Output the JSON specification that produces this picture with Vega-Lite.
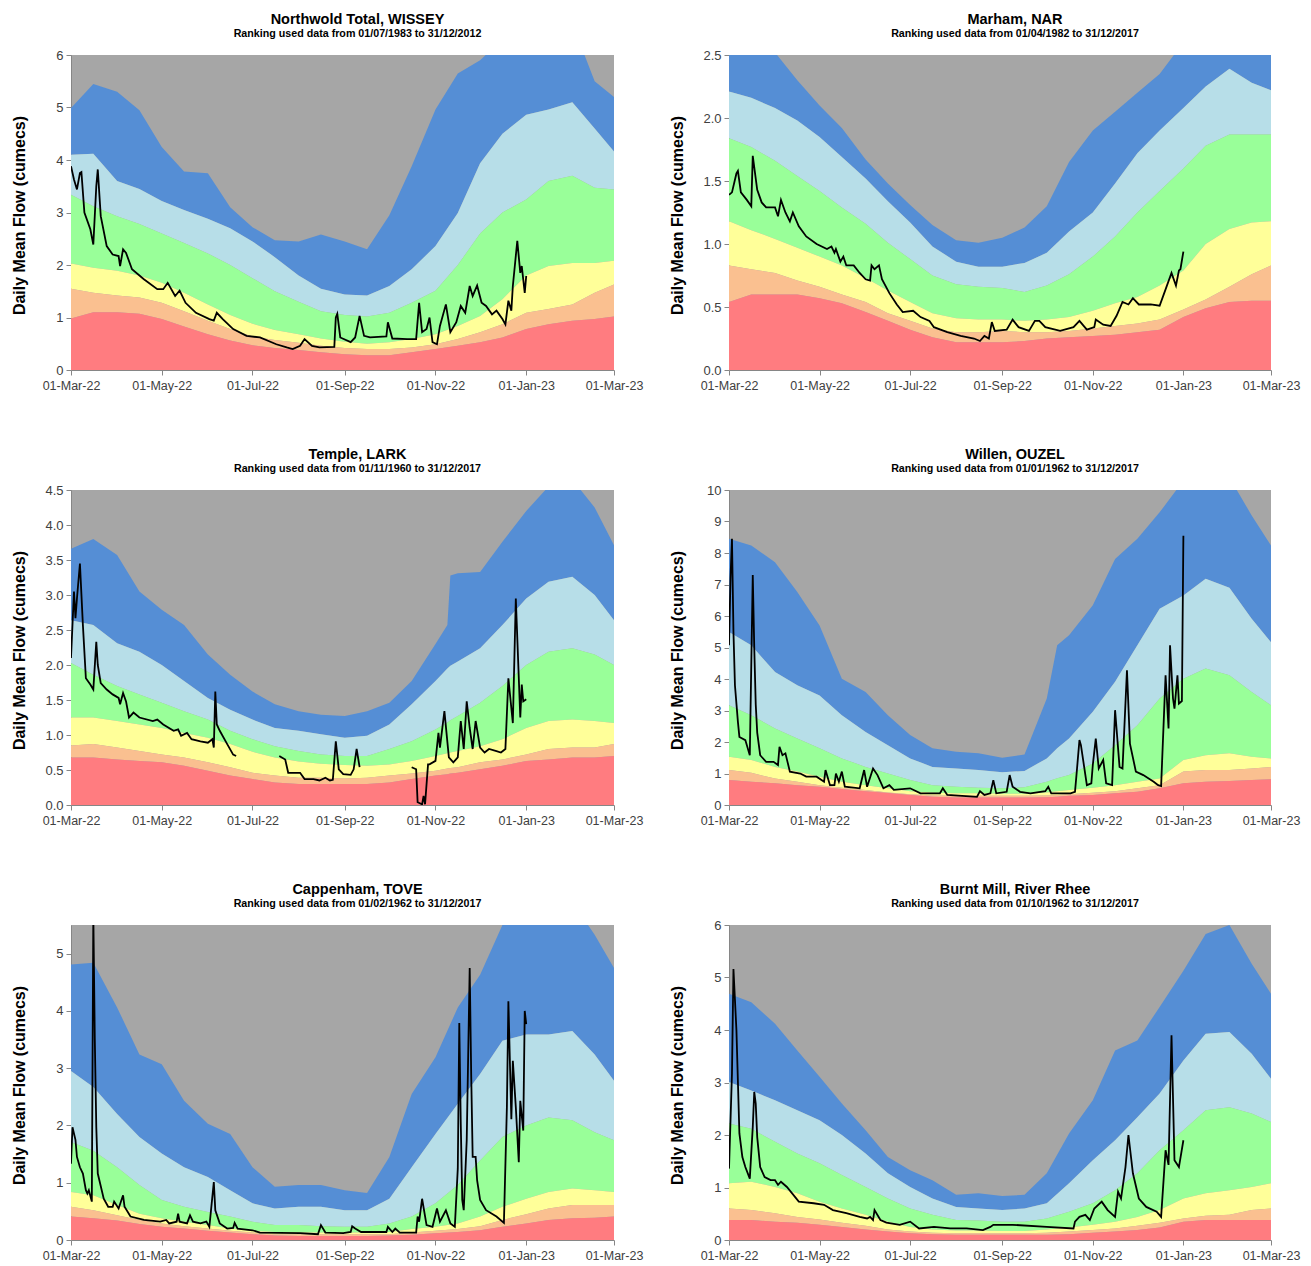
{
"$schema":"https://vega.github.io/schema/vega-lite/v6.json",
"padding":{"left":11,"top":11,"right":5,"bottom":5},
"background":"#ffffff",
"columns":2,
"bounds":"flush",
"spacing":{"row":120,"column":115},
"config":{
 "font":"Liberation Sans",
 "view":{"fill":"#A6A6A6","stroke":null},
 "axis":{"grid":false,"domainColor":"#868686","tickColor":"#868686","tickSize":5,"labelColor":"#404040","labelFontSize":12.5,"labelFlush":false,"labelOverlap":false,"titleFontSize":14,"titleFontWeight":"bold","titleColor":"#000000"},
 "axisX":{"labelPadding":4},
 "axisY":{"labelPadding":3,"labelFontSize":13,"titleFontSize":16,"titleX":-44,"titleY":160},
 "title":{"fontSize":14.5,"fontWeight":"bold","color":"#000000","subtitleFontSize":10.7,"subtitleFontWeight":"bold","subtitleColor":"#000000","subtitlePadding":2,"offset":9,"frame":"group","anchor":"middle","dx":15}
},
"datasets":{
"bands":[
{"s":"W","d":"2022-03-01","r":0.98,"o":1.55,"y":2.03,"g":3.34,"l":4.1,"b":4.99},
{"s":"W","d":"2022-03-16","r":1.1,"o":1.47,"y":1.95,"g":3.12,"l":4.12,"b":5.45},
{"s":"W","d":"2022-04-01","r":1.1,"o":1.42,"y":1.89,"g":2.93,"l":3.6,"b":5.3},
{"s":"W","d":"2022-04-16","r":1.07,"o":1.38,"y":1.8,"g":2.78,"l":3.45,"b":4.95},
{"s":"W","d":"2022-05-01","r":0.97,"o":1.28,"y":1.66,"g":2.6,"l":3.22,"b":4.25},
{"s":"W","d":"2022-05-16","r":0.83,"o":1.12,"y":1.47,"g":2.42,"l":3.05,"b":3.78},
{"s":"W","d":"2022-06-01","r":0.68,"o":0.94,"y":1.25,"g":2.22,"l":2.88,"b":3.75},
{"s":"W","d":"2022-06-16","r":0.56,"o":0.78,"y":1.05,"g":2.0,"l":2.7,"b":3.1},
{"s":"W","d":"2022-07-01","r":0.47,"o":0.64,"y":0.88,"g":1.75,"l":2.45,"b":2.72},
{"s":"W","d":"2022-07-16","r":0.42,"o":0.57,"y":0.76,"g":1.5,"l":2.15,"b":2.47},
{"s":"W","d":"2022-08-01","r":0.38,"o":0.52,"y":0.68,"g":1.3,"l":1.8,"b":2.45},
{"s":"W","d":"2022-08-16","r":0.34,"o":0.46,"y":0.6,"g":1.12,"l":1.55,"b":2.58},
{"s":"W","d":"2022-09-01","r":0.3,"o":0.42,"y":0.54,"g":1.05,"l":1.44,"b":2.45},
{"s":"W","d":"2022-09-16","r":0.28,"o":0.4,"y":0.5,"g":1.02,"l":1.42,"b":2.3},
{"s":"W","d":"2022-10-01","r":0.28,"o":0.4,"y":0.53,"g":1.09,"l":1.6,"b":2.95},
{"s":"W","d":"2022-10-16","r":0.34,"o":0.43,"y":0.59,"g":1.28,"l":1.92,"b":3.88},
{"s":"W","d":"2022-11-01","r":0.4,"o":0.49,"y":0.68,"g":1.51,"l":2.36,"b":4.96},
{"s":"W","d":"2022-11-16","r":0.46,"o":0.59,"y":0.84,"g":2.0,"l":2.99,"b":5.65},
{"s":"W","d":"2022-12-01","r":0.53,"o":0.72,"y":1.03,"g":2.6,"l":3.94,"b":5.9},
{"s":"W","d":"2022-12-16","r":0.62,"o":0.87,"y":1.35,"g":3.0,"l":4.5,"b":6.3},
{"s":"W","d":"2023-01-01","r":0.78,"o":1.09,"y":1.8,"g":3.25,"l":4.86,"b":6.6},
{"s":"W","d":"2023-01-16","r":0.87,"o":1.16,"y":1.98,"g":3.6,"l":4.96,"b":6.8},
{"s":"W","d":"2023-02-01","r":0.94,"o":1.25,"y":2.04,"g":3.7,"l":5.1,"b":6.6},
{"s":"W","d":"2023-02-16","r":0.97,"o":1.47,"y":2.04,"g":3.47,"l":4.6,"b":5.5},
{"s":"W","d":"2023-03-01","r":1.02,"o":1.63,"y":2.08,"g":3.44,"l":4.16,"b":5.2},
{"s":"N","d":"2022-03-01","r":0.54,"o":0.83,"y":1.18,"g":1.84,"l":2.21,"b":2.6},
{"s":"N","d":"2022-03-16","r":0.6,"o":0.8,"y":1.11,"g":1.77,"l":2.16,"b":2.6},
{"s":"N","d":"2022-04-01","r":0.6,"o":0.77,"y":1.04,"g":1.66,"l":2.08,"b":2.52},
{"s":"N","d":"2022-04-16","r":0.6,"o":0.71,"y":0.97,"g":1.54,"l":1.98,"b":2.3},
{"s":"N","d":"2022-05-01","r":0.57,"o":0.66,"y":0.9,"g":1.42,"l":1.85,"b":2.1},
{"s":"N","d":"2022-05-16","r":0.53,"o":0.6,"y":0.83,"g":1.29,"l":1.69,"b":1.92},
{"s":"N","d":"2022-06-01","r":0.46,"o":0.54,"y":0.73,"g":1.16,"l":1.52,"b":1.67},
{"s":"N","d":"2022-06-16","r":0.39,"o":0.45,"y":0.63,"g":1.01,"l":1.34,"b":1.48},
{"s":"N","d":"2022-07-01","r":0.32,"o":0.39,"y":0.54,"g":0.88,"l":1.17,"b":1.31},
{"s":"N","d":"2022-07-16","r":0.26,"o":0.33,"y":0.45,"g":0.75,"l":0.98,"b":1.15},
{"s":"N","d":"2022-08-01","r":0.22,"o":0.3,"y":0.41,"g":0.68,"l":0.86,"b":1.03},
{"s":"N","d":"2022-08-16","r":0.22,"o":0.3,"y":0.4,"g":0.66,"l":0.82,"b":1.01},
{"s":"N","d":"2022-09-01","r":0.22,"o":0.31,"y":0.4,"g":0.65,"l":0.82,"b":1.05},
{"s":"N","d":"2022-09-16","r":0.23,"o":0.3,"y":0.39,"g":0.62,"l":0.85,"b":1.13},
{"s":"N","d":"2022-10-01","r":0.25,"o":0.3,"y":0.4,"g":0.67,"l":0.93,"b":1.3},
{"s":"N","d":"2022-10-16","r":0.26,"o":0.31,"y":0.42,"g":0.76,"l":1.1,"b":1.65},
{"s":"N","d":"2022-11-01","r":0.27,"o":0.33,"y":0.47,"g":0.9,"l":1.25,"b":1.9},
{"s":"N","d":"2022-11-16","r":0.28,"o":0.35,"y":0.53,"g":1.06,"l":1.48,"b":2.05},
{"s":"N","d":"2022-12-01","r":0.3,"o":0.37,"y":0.58,"g":1.25,"l":1.72,"b":2.2},
{"s":"N","d":"2022-12-16","r":0.32,"o":0.4,"y":0.67,"g":1.42,"l":1.9,"b":2.35},
{"s":"N","d":"2023-01-01","r":0.42,"o":0.48,"y":0.79,"g":1.6,"l":2.08,"b":2.6},
{"s":"N","d":"2023-01-16","r":0.49,"o":0.56,"y":1.0,"g":1.78,"l":2.25,"b":2.75},
{"s":"N","d":"2023-02-01","r":0.54,"o":0.66,"y":1.12,"g":1.87,"l":2.39,"b":2.8},
{"s":"N","d":"2023-02-16","r":0.55,"o":0.76,"y":1.17,"g":1.87,"l":2.28,"b":2.75},
{"s":"N","d":"2023-03-01","r":0.55,"o":0.83,"y":1.18,"g":1.87,"l":2.22,"b":2.7},
{"s":"L","d":"2022-03-01","r":0.68,"o":0.85,"y":1.25,"g":2.03,"l":2.64,"b":3.66},
{"s":"L","d":"2022-03-16","r":0.68,"o":0.87,"y":1.25,"g":1.86,"l":2.57,"b":3.8},
{"s":"L","d":"2022-04-01","r":0.65,"o":0.82,"y":1.2,"g":1.7,"l":2.31,"b":3.57},
{"s":"L","d":"2022-04-16","r":0.63,"o":0.77,"y":1.15,"g":1.58,"l":2.19,"b":3.05},
{"s":"L","d":"2022-05-01","r":0.61,"o":0.72,"y":1.1,"g":1.46,"l":2.0,"b":2.79},
{"s":"L","d":"2022-05-16","r":0.56,"o":0.68,"y":1.03,"g":1.34,"l":1.77,"b":2.57},
{"s":"L","d":"2022-06-01","r":0.49,"o":0.61,"y":0.96,"g":1.22,"l":1.53,"b":2.15},
{"s":"L","d":"2022-06-16","r":0.42,"o":0.54,"y":0.87,"g":1.06,"l":1.36,"b":1.86},
{"s":"L","d":"2022-07-01","r":0.37,"o":0.46,"y":0.76,"g":0.94,"l":1.22,"b":1.62},
{"s":"L","d":"2022-07-16","r":0.32,"o":0.42,"y":0.68,"g":0.84,"l":1.1,"b":1.44},
{"s":"L","d":"2022-08-01","r":0.3,"o":0.39,"y":0.62,"g":0.77,"l":1.06,"b":1.34},
{"s":"L","d":"2022-08-16","r":0.3,"o":0.39,"y":0.59,"g":0.72,"l":1.01,"b":1.29},
{"s":"L","d":"2022-09-01","r":0.3,"o":0.38,"y":0.57,"g":0.7,"l":0.96,"b":1.27},
{"s":"L","d":"2022-09-16","r":0.3,"o":0.39,"y":0.56,"g":0.7,"l":0.99,"b":1.34},
{"s":"L","d":"2022-10-01","r":0.32,"o":0.42,"y":0.58,"g":0.8,"l":1.15,"b":1.46},
{"s":"L","d":"2022-10-16","r":0.37,"o":0.45,"y":0.63,"g":0.91,"l":1.44,"b":1.77},
{"s":"L","d":"2022-11-01","r":0.42,"o":0.49,"y":0.7,"g":1.08,"l":1.77,"b":2.3},
{"s":"L","d":"2022-11-09","r":0.44,"o":0.52,"y":0.74,"g":1.18,"l":1.95,"b":2.57},
{"s":"L","d":"2022-11-11","r":0.45,"o":0.53,"y":0.75,"g":1.21,"l":1.99,"b":3.28},
{"s":"L","d":"2022-11-16","r":0.46,"o":0.54,"y":0.77,"g":1.27,"l":2.05,"b":3.31},
{"s":"L","d":"2022-12-01","r":0.51,"o":0.61,"y":0.84,"g":1.46,"l":2.24,"b":3.33},
{"s":"L","d":"2022-12-16","r":0.56,"o":0.65,"y":0.94,"g":1.7,"l":2.57,"b":3.76},
{"s":"L","d":"2023-01-01","r":0.63,"o":0.72,"y":1.1,"g":2.0,"l":2.95,"b":4.2},
{"s":"L","d":"2023-01-16","r":0.65,"o":0.8,"y":1.2,"g":2.19,"l":3.19,"b":4.55},
{"s":"L","d":"2023-02-01","r":0.68,"o":0.82,"y":1.22,"g":2.24,"l":3.26,"b":4.65},
{"s":"L","d":"2023-02-16","r":0.68,"o":0.82,"y":1.2,"g":2.15,"l":3.0,"b":4.25},
{"s":"L","d":"2023-03-01","r":0.7,"o":0.87,"y":1.17,"g":2.0,"l":2.64,"b":3.71},
{"s":"O","d":"2022-03-01","r":0.79,"o":1.11,"y":1.53,"g":3.17,"l":5.49,"b":8.45},
{"s":"O","d":"2022-03-16","r":0.74,"o":1.02,"y":1.43,"g":2.85,"l":5.07,"b":8.24},
{"s":"O","d":"2022-04-01","r":0.69,"o":0.84,"y":1.21,"g":2.43,"l":4.22,"b":7.71},
{"s":"O","d":"2022-04-16","r":0.63,"o":0.74,"y":1.06,"g":2.11,"l":3.8,"b":6.76},
{"s":"O","d":"2022-05-01","r":0.58,"o":0.63,"y":0.9,"g":1.8,"l":3.48,"b":5.7},
{"s":"O","d":"2022-05-16","r":0.51,"o":0.55,"y":0.74,"g":1.48,"l":2.85,"b":4.01},
{"s":"O","d":"2022-06-01","r":0.44,"o":0.48,"y":0.63,"g":1.21,"l":2.32,"b":3.59},
{"s":"O","d":"2022-06-16","r":0.38,"o":0.4,"y":0.53,"g":1.0,"l":1.9,"b":2.85},
{"s":"O","d":"2022-07-01","r":0.32,"o":0.34,"y":0.44,"g":0.79,"l":1.48,"b":2.22},
{"s":"O","d":"2022-07-16","r":0.26,"o":0.3,"y":0.39,"g":0.63,"l":1.21,"b":1.8},
{"s":"O","d":"2022-08-01","r":0.24,"o":0.29,"y":0.37,"g":0.58,"l":1.16,"b":1.69},
{"s":"O","d":"2022-08-16","r":0.24,"o":0.29,"y":0.37,"g":0.55,"l":1.11,"b":1.64},
{"s":"O","d":"2022-09-01","r":0.24,"o":0.29,"y":0.36,"g":0.53,"l":1.04,"b":1.5},
{"s":"O","d":"2022-09-16","r":0.24,"o":0.29,"y":0.36,"g":0.56,"l":1.08,"b":1.6},
{"s":"O","d":"2022-10-01","r":0.25,"o":0.3,"y":0.4,"g":0.74,"l":1.48,"b":3.38},
{"s":"O","d":"2022-10-08","r":0.26,"o":0.32,"y":0.44,"g":0.85,"l":1.8,"b":5.07},
{"s":"O","d":"2022-10-16","r":0.29,"o":0.34,"y":0.48,"g":0.95,"l":2.11,"b":5.39},
{"s":"O","d":"2022-11-01","r":0.32,"o":0.39,"y":0.55,"g":1.32,"l":2.96,"b":6.34},
{"s":"O","d":"2022-11-16","r":0.37,"o":0.44,"y":0.63,"g":1.9,"l":3.91,"b":7.81},
{"s":"O","d":"2022-12-01","r":0.42,"o":0.53,"y":0.74,"g":2.53,"l":5.07,"b":8.45},
{"s":"O","d":"2022-12-16","r":0.53,"o":0.63,"y":0.84,"g":3.38,"l":6.23,"b":9.29},
{"s":"O","d":"2023-01-01","r":0.69,"o":1.06,"y":1.43,"g":4.01,"l":6.65,"b":10.3},
{"s":"O","d":"2023-01-16","r":0.74,"o":1.11,"y":1.58,"g":4.33,"l":7.18,"b":10.5},
{"s":"O","d":"2023-02-01","r":0.76,"o":1.11,"y":1.64,"g":4.12,"l":6.9,"b":10.4},
{"s":"O","d":"2023-02-16","r":0.79,"o":1.16,"y":1.53,"g":3.59,"l":5.91,"b":9.19},
{"s":"O","d":"2023-03-01","r":0.82,"o":1.21,"y":1.48,"g":3.17,"l":5.17,"b":8.24},
{"s":"T","d":"2022-03-01","r":0.41,"o":0.58,"y":0.84,"g":1.71,"l":2.95,"b":4.81},
{"s":"T","d":"2022-03-16","r":0.38,"o":0.52,"y":0.78,"g":1.56,"l":2.67,"b":4.84},
{"s":"T","d":"2022-04-01","r":0.34,"o":0.43,"y":0.61,"g":1.27,"l":2.2,"b":4.06},
{"s":"T","d":"2022-04-16","r":0.28,"o":0.35,"y":0.46,"g":0.96,"l":1.8,"b":3.24},
{"s":"T","d":"2022-05-01","r":0.23,"o":0.29,"y":0.38,"g":0.7,"l":1.51,"b":3.07},
{"s":"T","d":"2022-05-16","r":0.2,"o":0.24,"y":0.32,"g":0.58,"l":1.27,"b":2.43},
{"s":"T","d":"2022-06-01","r":0.16,"o":0.2,"y":0.26,"g":0.49,"l":1.1,"b":2.03},
{"s":"T","d":"2022-06-16","r":0.13,"o":0.16,"y":0.2,"g":0.41,"l":0.87,"b":1.85},
{"s":"T","d":"2022-07-01","r":0.1,"o":0.13,"y":0.16,"g":0.32,"l":0.64,"b":1.27},
{"s":"T","d":"2022-07-16","r":0.08,"o":0.1,"y":0.14,"g":0.26,"l":0.55,"b":0.93},
{"s":"T","d":"2022-08-01","r":0.07,"o":0.1,"y":0.13,"g":0.26,"l":0.58,"b":0.96},
{"s":"T","d":"2022-08-16","r":0.07,"o":0.1,"y":0.13,"g":0.24,"l":0.58,"b":0.96},
{"s":"T","d":"2022-09-01","r":0.07,"o":0.1,"y":0.13,"g":0.23,"l":0.52,"b":0.87},
{"s":"T","d":"2022-09-16","r":0.07,"o":0.1,"y":0.13,"g":0.23,"l":0.52,"b":0.82},
{"s":"T","d":"2022-10-01","r":0.08,"o":0.1,"y":0.14,"g":0.29,"l":0.72,"b":1.45},
{"s":"T","d":"2022-10-16","r":0.09,"o":0.13,"y":0.19,"g":0.41,"l":1.27,"b":2.55},
{"s":"T","d":"2022-11-01","r":0.12,"o":0.16,"y":0.23,"g":0.64,"l":1.85,"b":3.19},
{"s":"T","d":"2022-11-16","r":0.14,"o":0.19,"y":0.29,"g":0.96,"l":2.38,"b":4.06},
{"s":"T","d":"2022-12-01","r":0.17,"o":0.24,"y":0.41,"g":1.39,"l":2.9,"b":4.63},
{"s":"T","d":"2022-12-16","r":0.23,"o":0.35,"y":0.58,"g":1.8,"l":3.48,"b":5.5},
{"s":"T","d":"2023-01-01","r":0.29,"o":0.45,"y":0.72,"g":2.0,"l":3.59,"b":5.8},
{"s":"T","d":"2023-01-16","r":0.35,"o":0.55,"y":0.84,"g":2.14,"l":3.59,"b":5.9},
{"s":"T","d":"2023-02-01","r":0.38,"o":0.61,"y":0.9,"g":2.09,"l":3.65,"b":5.9},
{"s":"T","d":"2023-02-16","r":0.39,"o":0.61,"y":0.87,"g":1.88,"l":3.24,"b":5.33},
{"s":"T","d":"2023-03-01","r":0.41,"o":0.61,"y":0.84,"g":1.74,"l":2.78,"b":4.75},
{"s":"R","d":"2022-03-01","r":0.38,"o":0.6,"y":1.08,"g":2.22,"l":3.01,"b":4.69},
{"s":"R","d":"2022-03-16","r":0.38,"o":0.57,"y":1.11,"g":2.12,"l":2.85,"b":4.53},
{"s":"R","d":"2022-04-01","r":0.35,"o":0.51,"y":1.01,"g":1.87,"l":2.66,"b":4.12},
{"s":"R","d":"2022-04-16","r":0.33,"o":0.44,"y":0.89,"g":1.65,"l":2.47,"b":3.61},
{"s":"R","d":"2022-05-01","r":0.29,"o":0.39,"y":0.73,"g":1.46,"l":2.28,"b":3.11},
{"s":"R","d":"2022-05-16","r":0.25,"o":0.33,"y":0.6,"g":1.24,"l":2.0,"b":2.6},
{"s":"R","d":"2022-06-01","r":0.2,"o":0.27,"y":0.48,"g":1.01,"l":1.65,"b":2.09},
{"s":"R","d":"2022-06-16","r":0.16,"o":0.2,"y":0.35,"g":0.79,"l":1.27,"b":1.58},
{"s":"R","d":"2022-07-01","r":0.13,"o":0.16,"y":0.25,"g":0.6,"l":1.01,"b":1.33},
{"s":"R","d":"2022-07-16","r":0.11,"o":0.14,"y":0.2,"g":0.48,"l":0.79,"b":1.14},
{"s":"R","d":"2022-08-01","r":0.1,"o":0.13,"y":0.18,"g":0.38,"l":0.63,"b":0.86},
{"s":"R","d":"2022-08-16","r":0.1,"o":0.13,"y":0.18,"g":0.37,"l":0.6,"b":0.89},
{"s":"R","d":"2022-09-01","r":0.1,"o":0.13,"y":0.17,"g":0.35,"l":0.57,"b":0.84},
{"s":"R","d":"2022-09-16","r":0.1,"o":0.13,"y":0.17,"g":0.35,"l":0.6,"b":0.86},
{"s":"R","d":"2022-10-01","r":0.1,"o":0.14,"y":0.2,"g":0.41,"l":0.7,"b":1.27},
{"s":"R","d":"2022-10-16","r":0.11,"o":0.16,"y":0.24,"g":0.54,"l":1.08,"b":2.03},
{"s":"R","d":"2022-11-01","r":0.14,"o":0.19,"y":0.29,"g":0.7,"l":1.52,"b":2.66},
{"s":"R","d":"2022-11-16","r":0.16,"o":0.22,"y":0.35,"g":0.95,"l":1.9,"b":3.61},
{"s":"R","d":"2022-12-01","r":0.19,"o":0.27,"y":0.44,"g":1.27,"l":2.34,"b":3.8},
{"s":"R","d":"2022-12-16","r":0.24,"o":0.33,"y":0.57,"g":1.71,"l":2.79,"b":4.44},
{"s":"R","d":"2023-01-01","r":0.35,"o":0.41,"y":0.79,"g":2.09,"l":3.42,"b":5.13},
{"s":"R","d":"2023-01-16","r":0.38,"o":0.46,"y":0.89,"g":2.47,"l":3.93,"b":5.83},
{"s":"R","d":"2023-02-01","r":0.38,"o":0.48,"y":0.95,"g":2.53,"l":3.96,"b":6.0},
{"s":"R","d":"2023-02-16","r":0.38,"o":0.57,"y":1.01,"g":2.41,"l":3.55,"b":5.26},
{"s":"R","d":"2023-03-01","r":0.38,"o":0.6,"y":1.08,"g":2.25,"l":3.07,"b":4.69}
],
"flow":[
{"s":"W","d":"2022-03-01","v":3.88},{"s":"W","d":"2022-03-03","v":3.63},{"s":"W","d":"2022-03-05","v":3.44},{"s":"W","d":"2022-03-07","v":3.75},{"s":"W","d":"2022-03-08","v":3.77},{"s":"W","d":"2022-03-10","v":3.0},{"s":"W","d":"2022-03-14","v":2.68},{"s":"W","d":"2022-03-16","v":2.39},{"s":"W","d":"2022-03-18","v":3.5},{"s":"W","d":"2022-03-19","v":3.82},{"s":"W","d":"2022-03-21","v":2.93},{"s":"W","d":"2022-03-25","v":2.36},{"s":"W","d":"2022-03-29","v":2.2},{"s":"W","d":"2022-04-02","v":2.17},{"s":"W","d":"2022-04-03","v":1.98},{"s":"W","d":"2022-04-05","v":2.3},{"s":"W","d":"2022-04-07","v":2.23},{"s":"W","d":"2022-04-11","v":1.92},{"s":"W","d":"2022-04-19","v":1.73},{"s":"W","d":"2022-04-28","v":1.54},{"s":"W","d":"2022-05-02","v":1.54},{"s":"W","d":"2022-05-05","v":1.66},{"s":"W","d":"2022-05-10","v":1.41},{"s":"W","d":"2022-05-13","v":1.51},{"s":"W","d":"2022-05-17","v":1.28},{"s":"W","d":"2022-05-24","v":1.09},{"s":"W","d":"2022-06-02","v":0.97},{"s":"W","d":"2022-06-05","v":0.94},{"s":"W","d":"2022-06-07","v":1.09},{"s":"W","d":"2022-06-11","v":0.97},{"s":"W","d":"2022-06-18","v":0.78},{"s":"W","d":"2022-06-27","v":0.65},{"s":"W","d":"2022-07-06","v":0.62},{"s":"W","d":"2022-07-17","v":0.49},{"s":"W","d":"2022-07-24","v":0.43},{"s":"W","d":"2022-07-28","v":0.4},{"s":"W","d":"2022-08-02","v":0.46},{"s":"W","d":"2022-08-05","v":0.59},{"s":"W","d":"2022-08-10","v":0.46},{"s":"W","d":"2022-08-15","v":0.43},{"s":"W","d":"2022-08-25","v":0.44},{"s":"W","d":"2022-08-26","v":1.0},{"s":"W","d":"2022-08-27","v":1.07},{"s":"W","d":"2022-08-29","v":0.62},{"s":"W","d":"2022-09-05","v":0.53},{"s":"W","d":"2022-09-08","v":0.62},{"s":"W","d":"2022-09-11","v":1.03},{"s":"W","d":"2022-09-14","v":0.65},{"s":"W","d":"2022-09-18","v":0.62},{"s":"W","d":"2022-09-29","v":0.64},{"s":"W","d":"2022-09-30","v":0.91},{"s":"W","d":"2022-10-03","v":0.6},{"s":"W","d":"2022-10-13","v":0.59},{"s":"W","d":"2022-10-19","v":0.59},{"s":"W","d":"2022-10-21","v":1.28},{"s":"W","d":"2022-10-23","v":0.72},{"s":"W","d":"2022-10-26","v":0.78},{"s":"W","d":"2022-10-28","v":1.0},{"s":"W","d":"2022-10-30","v":0.53},{"s":"W","d":"2022-11-02","v":0.49},{"s":"W","d":"2022-11-04","v":0.84},{"s":"W","d":"2022-11-08","v":1.25},{"s":"W","d":"2022-11-11","v":0.72},{"s":"W","d":"2022-11-15","v":0.91},{"s":"W","d":"2022-11-18","v":1.22},{"s":"W","d":"2022-11-21","v":1.09},{"s":"W","d":"2022-11-24","v":1.6},{"s":"W","d":"2022-11-26","v":1.41},{"s":"W","d":"2022-11-29","v":1.61},{"s":"W","d":"2022-12-02","v":1.28},{"s":"W","d":"2022-12-05","v":1.22},{"s":"W","d":"2022-12-09","v":1.06},{"s":"W","d":"2022-12-12","v":1.13},{"s":"W","d":"2022-12-16","v":0.97},{"s":"W","d":"2022-12-18","v":0.87},{"s":"W","d":"2022-12-20","v":1.32},{"s":"W","d":"2022-12-22","v":1.13},{"s":"W","d":"2022-12-23","v":1.6},{"s":"W","d":"2022-12-26","v":2.46},{"s":"W","d":"2022-12-28","v":1.85},{"s":"W","d":"2022-12-29","v":1.98},{"s":"W","d":"2022-12-31","v":1.47},{"s":"W","d":"2023-01-01","v":1.79},
{"s":"N","d":"2022-03-01","v":1.39},{"s":"N","d":"2022-03-03","v":1.41},{"s":"N","d":"2022-03-06","v":1.56},{"s":"N","d":"2022-03-07","v":1.58},{"s":"N","d":"2022-03-09","v":1.41},{"s":"N","d":"2022-03-13","v":1.35},{"s":"N","d":"2022-03-16","v":1.3},{"s":"N","d":"2022-03-17","v":1.7},{"s":"N","d":"2022-03-20","v":1.43},{"s":"N","d":"2022-03-23","v":1.33},{"s":"N","d":"2022-03-26","v":1.29},{"s":"N","d":"2022-04-01","v":1.29},{"s":"N","d":"2022-04-03","v":1.22},{"s":"N","d":"2022-04-05","v":1.35},{"s":"N","d":"2022-04-08","v":1.25},{"s":"N","d":"2022-04-11","v":1.18},{"s":"N","d":"2022-04-13","v":1.25},{"s":"N","d":"2022-04-17","v":1.14},{"s":"N","d":"2022-04-22","v":1.06},{"s":"N","d":"2022-04-29","v":1.0},{"s":"N","d":"2022-05-06","v":0.96},{"s":"N","d":"2022-05-09","v":0.98},{"s":"N","d":"2022-05-11","v":0.93},{"s":"N","d":"2022-05-12","v":0.96},{"s":"N","d":"2022-05-15","v":0.86},{"s":"N","d":"2022-05-17","v":0.9},{"s":"N","d":"2022-05-19","v":0.83},{"s":"N","d":"2022-05-24","v":0.83},{"s":"N","d":"2022-05-28","v":0.77},{"s":"N","d":"2022-06-01","v":0.72},{"s":"N","d":"2022-06-04","v":0.71},{"s":"N","d":"2022-06-05","v":0.83},{"s":"N","d":"2022-06-07","v":0.8},{"s":"N","d":"2022-06-10","v":0.83},{"s":"N","d":"2022-06-12","v":0.72},{"s":"N","d":"2022-06-17","v":0.61},{"s":"N","d":"2022-06-22","v":0.52},{"s":"N","d":"2022-06-26","v":0.46},{"s":"N","d":"2022-07-03","v":0.47},{"s":"N","d":"2022-07-08","v":0.42},{"s":"N","d":"2022-07-14","v":0.39},{"s":"N","d":"2022-07-17","v":0.34},{"s":"N","d":"2022-07-26","v":0.3},{"s":"N","d":"2022-08-04","v":0.27},{"s":"N","d":"2022-08-13","v":0.25},{"s":"N","d":"2022-08-17","v":0.23},{"s":"N","d":"2022-08-20","v":0.27},{"s":"N","d":"2022-08-23","v":0.25},{"s":"N","d":"2022-08-25","v":0.38},{"s":"N","d":"2022-08-27","v":0.31},{"s":"N","d":"2022-09-04","v":0.32},{"s":"N","d":"2022-09-08","v":0.4},{"s":"N","d":"2022-09-12","v":0.34},{"s":"N","d":"2022-09-19","v":0.31},{"s":"N","d":"2022-09-23","v":0.39},{"s":"N","d":"2022-09-26","v":0.39},{"s":"N","d":"2022-09-30","v":0.34},{"s":"N","d":"2022-10-10","v":0.31},{"s":"N","d":"2022-10-19","v":0.34},{"s":"N","d":"2022-10-23","v":0.39},{"s":"N","d":"2022-10-28","v":0.32},{"s":"N","d":"2022-11-02","v":0.34},{"s":"N","d":"2022-11-03","v":0.4},{"s":"N","d":"2022-11-08","v":0.36},{"s":"N","d":"2022-11-13","v":0.35},{"s":"N","d":"2022-11-17","v":0.43},{"s":"N","d":"2022-11-21","v":0.54},{"s":"N","d":"2022-11-25","v":0.52},{"s":"N","d":"2022-11-28","v":0.57},{"s":"N","d":"2022-12-02","v":0.52},{"s":"N","d":"2022-12-10","v":0.52},{"s":"N","d":"2022-12-16","v":0.51},{"s":"N","d":"2022-12-20","v":0.64},{"s":"N","d":"2022-12-24","v":0.77},{"s":"N","d":"2022-12-27","v":0.67},{"s":"N","d":"2022-12-29","v":0.79},{"s":"N","d":"2022-12-30","v":0.8},{"s":"N","d":"2023-01-01","v":0.94},
{"s":"L","k":1,"d":"2022-03-01","v":2.1},{"s":"L","k":1,"d":"2022-03-03","v":3.05},{"s":"L","k":1,"d":"2022-03-04","v":2.67},{"s":"L","k":1,"d":"2022-03-05","v":2.95},{"s":"L","k":1,"d":"2022-03-07","v":3.45},{"s":"L","k":1,"d":"2022-03-09","v":2.57},{"s":"L","k":1,"d":"2022-03-11","v":1.81},{"s":"L","k":1,"d":"2022-03-14","v":1.72},{"s":"L","k":1,"d":"2022-03-16","v":1.65},{"s":"L","k":1,"d":"2022-03-18","v":2.33},{"s":"L","k":1,"d":"2022-03-19","v":2.0},{"s":"L","k":1,"d":"2022-03-21","v":1.74},{"s":"L","k":1,"d":"2022-03-25","v":1.65},{"s":"L","k":1,"d":"2022-03-29","v":1.58},{"s":"L","k":1,"d":"2022-04-02","v":1.53},{"s":"L","k":1,"d":"2022-04-03","v":1.44},{"s":"L","k":1,"d":"2022-04-05","v":1.6},{"s":"L","k":1,"d":"2022-04-07","v":1.48},{"s":"L","k":1,"d":"2022-04-09","v":1.25},{"s":"L","k":1,"d":"2022-04-12","v":1.32},{"s":"L","k":1,"d":"2022-04-16","v":1.25},{"s":"L","k":1,"d":"2022-04-25","v":1.2},{"s":"L","k":1,"d":"2022-04-28","v":1.22},{"s":"L","k":1,"d":"2022-05-02","v":1.15},{"s":"L","k":1,"d":"2022-05-09","v":1.06},{"s":"L","k":1,"d":"2022-05-12","v":1.08},{"s":"L","k":1,"d":"2022-05-14","v":0.99},{"s":"L","k":1,"d":"2022-05-18","v":1.03},{"s":"L","k":1,"d":"2022-05-21","v":0.94},{"s":"L","k":1,"d":"2022-05-27","v":0.91},{"s":"L","k":1,"d":"2022-06-01","v":0.89},{"s":"L","k":1,"d":"2022-06-04","v":0.94},{"s":"L","k":1,"d":"2022-06-05","v":0.82},{"s":"L","k":1,"d":"2022-06-06","v":1.62},{"s":"L","k":1,"d":"2022-06-07","v":1.15},{"s":"L","k":1,"d":"2022-06-09","v":1.06},{"s":"L","k":1,"d":"2022-06-14","v":0.87},{"s":"L","k":1,"d":"2022-06-18","v":0.72},{"s":"L","k":1,"d":"2022-06-20","v":0.7},
{"s":"L","k":2,"d":"2022-07-19","v":0.7},{"s":"L","k":2,"d":"2022-07-23","v":0.65},{"s":"L","k":2,"d":"2022-07-25","v":0.46},{"s":"L","k":2,"d":"2022-08-02","v":0.46},{"s":"L","k":2,"d":"2022-08-05","v":0.37},{"s":"L","k":2,"d":"2022-08-11","v":0.37},{"s":"L","k":2,"d":"2022-08-15","v":0.35},{"s":"L","k":2,"d":"2022-08-19","v":0.39},{"s":"L","k":2,"d":"2022-08-22","v":0.35},{"s":"L","k":2,"d":"2022-08-24","v":0.36},{"s":"L","k":2,"d":"2022-08-26","v":0.91},{"s":"L","k":2,"d":"2022-08-28","v":0.51},{"s":"L","k":2,"d":"2022-08-31","v":0.44},{"s":"L","k":2,"d":"2022-09-05","v":0.43},{"s":"L","k":2,"d":"2022-09-07","v":0.51},{"s":"L","k":2,"d":"2022-09-09","v":0.8},{"s":"L","k":2,"d":"2022-09-11","v":0.54},
{"s":"L","k":3,"d":"2022-10-16","v":0.54},{"s":"L","k":3,"d":"2022-10-19","v":0.51},{"s":"L","k":3,"d":"2022-10-20","v":0.04},{"s":"L","k":3,"d":"2022-10-23","v":0.01},{"s":"L","k":3,"d":"2022-10-24","v":0.13},{"s":"L","k":3,"d":"2022-10-25","v":0.01},{"s":"L","k":3,"d":"2022-10-27","v":0.58},{"s":"L","k":3,"d":"2022-10-28","v":0.58},{"s":"L","k":3,"d":"2022-11-01","v":0.63},{"s":"L","k":3,"d":"2022-11-03","v":1.03},{"s":"L","k":3,"d":"2022-11-04","v":0.82},{"s":"L","k":3,"d":"2022-11-07","v":1.34},{"s":"L","k":3,"d":"2022-11-10","v":0.68},{"s":"L","k":3,"d":"2022-11-13","v":0.61},{"s":"L","k":3,"d":"2022-11-16","v":0.68},{"s":"L","k":3,"d":"2022-11-18","v":1.2},{"s":"L","k":3,"d":"2022-11-20","v":0.8},{"s":"L","k":3,"d":"2022-11-22","v":1.48},{"s":"L","k":3,"d":"2022-11-24","v":1.1},{"s":"L","k":3,"d":"2022-11-26","v":0.8},{"s":"L","k":3,"d":"2022-11-28","v":1.2},{"s":"L","k":3,"d":"2022-12-01","v":0.82},{"s":"L","k":3,"d":"2022-12-04","v":0.75},{"s":"L","k":3,"d":"2022-12-07","v":0.8},{"s":"L","k":3,"d":"2022-12-12","v":0.77},{"s":"L","k":3,"d":"2022-12-15","v":0.75},{"s":"L","k":3,"d":"2022-12-18","v":0.8},{"s":"L","k":3,"d":"2022-12-20","v":1.81},{"s":"L","k":3,"d":"2022-12-23","v":1.17},{"s":"L","k":3,"d":"2022-12-25","v":2.95},{"s":"L","k":3,"d":"2022-12-28","v":1.25},{"s":"L","k":3,"d":"2022-12-29","v":1.72},{"s":"L","k":3,"d":"2022-12-30","v":1.48},{"s":"L","k":3,"d":"2023-01-01","v":1.51},
{"s":"O","d":"2022-03-01","v":5.07},{"s":"O","d":"2022-03-02","v":7.18},{"s":"O","d":"2022-03-03","v":8.45},{"s":"O","d":"2022-03-04","v":5.5},{"s":"O","d":"2022-03-05","v":3.8},{"s":"O","d":"2022-03-07","v":2.64},{"s":"O","d":"2022-03-08","v":2.16},{"s":"O","d":"2022-03-12","v":2.06},{"s":"O","d":"2022-03-15","v":1.58},{"s":"O","d":"2022-03-17","v":7.3},{"s":"O","d":"2022-03-18","v":5.0},{"s":"O","d":"2022-03-19","v":3.2},{"s":"O","d":"2022-03-20","v":2.3},{"s":"O","d":"2022-03-22","v":1.58},{"s":"O","d":"2022-03-26","v":1.37},{"s":"O","d":"2022-03-31","v":1.37},{"s":"O","d":"2022-04-03","v":1.27},{"s":"O","d":"2022-04-04","v":1.85},{"s":"O","d":"2022-04-06","v":1.58},{"s":"O","d":"2022-04-08","v":1.64},{"s":"O","d":"2022-04-11","v":1.06},{"s":"O","d":"2022-04-18","v":1.0},{"s":"O","d":"2022-04-22","v":0.9},{"s":"O","d":"2022-04-29","v":0.9},{"s":"O","d":"2022-05-04","v":0.74},{"s":"O","d":"2022-05-05","v":1.11},{"s":"O","d":"2022-05-08","v":0.63},{"s":"O","d":"2022-05-11","v":0.63},{"s":"O","d":"2022-05-12","v":1.0},{"s":"O","d":"2022-05-14","v":0.74},{"s":"O","d":"2022-05-16","v":1.06},{"s":"O","d":"2022-05-18","v":0.58},{"s":"O","d":"2022-05-28","v":0.53},{"s":"O","d":"2022-05-31","v":1.11},{"s":"O","d":"2022-06-02","v":0.58},{"s":"O","d":"2022-06-06","v":1.16},{"s":"O","d":"2022-06-09","v":0.95},{"s":"O","d":"2022-06-13","v":0.53},{"s":"O","d":"2022-06-17","v":0.63},{"s":"O","d":"2022-06-20","v":0.48},{"s":"O","d":"2022-07-01","v":0.53},{"s":"O","d":"2022-07-08","v":0.37},{"s":"O","d":"2022-07-21","v":0.37},{"s":"O","d":"2022-07-23","v":0.53},{"s":"O","d":"2022-07-26","v":0.32},{"s":"O","d":"2022-08-15","v":0.26},{"s":"O","d":"2022-08-17","v":0.44},{"s":"O","d":"2022-08-20","v":0.32},{"s":"O","d":"2022-08-24","v":0.37},{"s":"O","d":"2022-08-26","v":0.79},{"s":"O","d":"2022-08-28","v":0.37},{"s":"O","d":"2022-09-04","v":0.42},{"s":"O","d":"2022-09-06","v":0.95},{"s":"O","d":"2022-09-08","v":0.58},{"s":"O","d":"2022-09-13","v":0.42},{"s":"O","d":"2022-09-20","v":0.37},{"s":"O","d":"2022-09-30","v":0.44},{"s":"O","d":"2022-10-02","v":0.58},{"s":"O","d":"2022-10-04","v":0.37},{"s":"O","d":"2022-10-17","v":0.37},{"s":"O","d":"2022-10-20","v":0.42},{"s":"O","d":"2022-10-21","v":0.95},{"s":"O","d":"2022-10-23","v":2.06},{"s":"O","d":"2022-10-24","v":1.9},{"s":"O","d":"2022-10-28","v":0.63},{"s":"O","d":"2022-10-31","v":0.69},{"s":"O","d":"2022-11-01","v":1.27},{"s":"O","d":"2022-11-03","v":2.11},{"s":"O","d":"2022-11-05","v":1.16},{"s":"O","d":"2022-11-08","v":1.43},{"s":"O","d":"2022-11-10","v":0.69},{"s":"O","d":"2022-11-14","v":0.63},{"s":"O","d":"2022-11-16","v":3.01},{"s":"O","d":"2022-11-19","v":1.21},{"s":"O","d":"2022-11-21","v":1.16},{"s":"O","d":"2022-11-24","v":4.28},{"s":"O","d":"2022-11-26","v":1.95},{"s":"O","d":"2022-11-30","v":1.06},{"s":"O","d":"2022-12-05","v":0.95},{"s":"O","d":"2022-12-12","v":0.74},{"s":"O","d":"2022-12-15","v":0.63},{"s":"O","d":"2022-12-17","v":0.6},{"s":"O","d":"2022-12-20","v":4.12},{"s":"O","d":"2022-12-22","v":2.43},{"s":"O","d":"2022-12-23","v":5.07},{"s":"O","d":"2022-12-25","v":3.38},{"s":"O","d":"2022-12-26","v":3.06},{"s":"O","d":"2022-12-28","v":4.12},{"s":"O","d":"2022-12-29","v":3.22},{"s":"O","d":"2022-12-31","v":3.3},{"s":"O","d":"2023-01-01","v":8.55},
{"s":"T","d":"2022-03-01","v":1.33},{"s":"T","d":"2022-03-02","v":1.97},{"s":"T","d":"2022-03-04","v":1.75},{"s":"T","d":"2022-03-05","v":1.45},{"s":"T","d":"2022-03-07","v":1.27},{"s":"T","d":"2022-03-09","v":1.16},{"s":"T","d":"2022-03-11","v":0.87},{"s":"T","d":"2022-03-12","v":0.81},{"s":"T","d":"2022-03-13","v":0.87},{"s":"T","d":"2022-03-15","v":0.67},{"s":"T","d":"2022-03-16","v":5.7},{"s":"T","d":"2022-03-17","v":3.5},{"s":"T","d":"2022-03-18","v":1.97},{"s":"T","d":"2022-03-19","v":1.16},{"s":"T","d":"2022-03-23","v":0.72},{"s":"T","d":"2022-03-26","v":0.58},{"s":"T","d":"2022-03-29","v":0.58},{"s":"T","d":"2022-03-30","v":0.67},{"s":"T","d":"2022-04-02","v":0.55},{"s":"T","d":"2022-04-05","v":0.78},{"s":"T","d":"2022-04-06","v":0.58},{"s":"T","d":"2022-04-10","v":0.41},{"s":"T","d":"2022-04-19","v":0.35},{"s":"T","d":"2022-04-30","v":0.32},{"s":"T","d":"2022-05-04","v":0.35},{"s":"T","d":"2022-05-06","v":0.29},{"s":"T","d":"2022-05-11","v":0.32},{"s":"T","d":"2022-05-12","v":0.46},{"s":"T","d":"2022-05-13","v":0.32},{"s":"T","d":"2022-05-18","v":0.29},{"s":"T","d":"2022-05-20","v":0.43},{"s":"T","d":"2022-05-22","v":0.32},{"s":"T","d":"2022-05-27","v":0.29},{"s":"T","d":"2022-05-31","v":0.32},{"s":"T","d":"2022-06-02","v":0.23},{"s":"T","d":"2022-06-05","v":1.01},{"s":"T","d":"2022-06-06","v":0.52},{"s":"T","d":"2022-06-09","v":0.29},{"s":"T","d":"2022-06-14","v":0.2},{"s":"T","d":"2022-06-18","v":0.21},{"s":"T","d":"2022-06-19","v":0.3},{"s":"T","d":"2022-06-21","v":0.2},{"s":"T","d":"2022-07-01","v":0.17},{"s":"T","d":"2022-07-06","v":0.13},{"s":"T","d":"2022-08-02","v":0.12},{"s":"T","d":"2022-08-14","v":0.1},{"s":"T","d":"2022-08-16","v":0.26},{"s":"T","d":"2022-08-19","v":0.13},{"s":"T","d":"2022-08-31","v":0.12},{"s":"T","d":"2022-09-05","v":0.14},{"s":"T","d":"2022-09-06","v":0.24},{"s":"T","d":"2022-09-08","v":0.2},{"s":"T","d":"2022-09-12","v":0.14},{"s":"T","d":"2022-09-29","v":0.14},{"s":"T","d":"2022-09-30","v":0.23},{"s":"T","d":"2022-10-03","v":0.14},{"s":"T","d":"2022-10-05","v":0.2},{"s":"T","d":"2022-10-08","v":0.13},{"s":"T","d":"2022-10-19","v":0.13},{"s":"T","d":"2022-10-20","v":0.41},{"s":"T","d":"2022-10-21","v":0.32},{"s":"T","d":"2022-10-23","v":0.72},{"s":"T","d":"2022-10-26","v":0.26},{"s":"T","d":"2022-10-30","v":0.23},{"s":"T","d":"2022-11-02","v":0.55},{"s":"T","d":"2022-11-04","v":0.32},{"s":"T","d":"2022-11-08","v":0.52},{"s":"T","d":"2022-11-11","v":0.29},{"s":"T","d":"2022-11-14","v":0.23},{"s":"T","d":"2022-11-16","v":1.25},{"s":"T","d":"2022-11-17","v":3.79},{"s":"T","d":"2022-11-18","v":2.03},{"s":"T","d":"2022-11-19","v":0.7},{"s":"T","d":"2022-11-20","v":0.52},{"s":"T","d":"2022-11-22","v":1.74},{"s":"T","d":"2022-11-24","v":4.75},{"s":"T","d":"2022-11-25","v":2.9},{"s":"T","d":"2022-11-26","v":1.45},{"s":"T","d":"2022-11-28","v":1.45},{"s":"T","d":"2022-11-29","v":1.04},{"s":"T","d":"2022-12-01","v":0.7},{"s":"T","d":"2022-12-05","v":0.52},{"s":"T","d":"2022-12-12","v":0.41},{"s":"T","d":"2022-12-17","v":0.3},{"s":"T","d":"2022-12-19","v":2.32},{"s":"T","d":"2022-12-20","v":4.17},{"s":"T","d":"2022-12-22","v":2.11},{"s":"T","d":"2022-12-23","v":3.13},{"s":"T","d":"2022-12-25","v":2.32},{"s":"T","d":"2022-12-27","v":1.36},{"s":"T","d":"2022-12-28","v":2.43},{"s":"T","d":"2022-12-30","v":1.91},{"s":"T","d":"2022-12-31","v":4.0},{"s":"T","d":"2023-01-01","v":3.77},
{"s":"R","d":"2022-03-01","v":1.36},{"s":"R","d":"2022-03-03","v":3.17},{"s":"R","d":"2022-03-04","v":5.16},{"s":"R","d":"2022-03-06","v":4.0},{"s":"R","d":"2022-03-08","v":2.03},{"s":"R","d":"2022-03-10","v":1.58},{"s":"R","d":"2022-03-12","v":1.39},{"s":"R","d":"2022-03-15","v":1.17},{"s":"R","d":"2022-03-17","v":2.15},{"s":"R","d":"2022-03-18","v":2.82},{"s":"R","d":"2022-03-19","v":2.6},{"s":"R","d":"2022-03-20","v":1.96},{"s":"R","d":"2022-03-22","v":1.39},{"s":"R","d":"2022-03-25","v":1.2},{"s":"R","d":"2022-03-29","v":1.14},{"s":"R","d":"2022-04-01","v":1.14},{"s":"R","d":"2022-04-03","v":1.05},{"s":"R","d":"2022-04-05","v":1.11},{"s":"R","d":"2022-04-09","v":1.01},{"s":"R","d":"2022-04-17","v":0.73},{"s":"R","d":"2022-04-27","v":0.7},{"s":"R","d":"2022-05-04","v":0.67},{"s":"R","d":"2022-05-10","v":0.57},{"s":"R","d":"2022-05-19","v":0.51},{"s":"R","d":"2022-05-28","v":0.44},{"s":"R","d":"2022-06-02","v":0.41},{"s":"R","d":"2022-06-04","v":0.44},{"s":"R","d":"2022-06-06","v":0.38},{"s":"R","d":"2022-06-07","v":0.57},{"s":"R","d":"2022-06-11","v":0.38},{"s":"R","d":"2022-06-15","v":0.33},{"s":"R","d":"2022-06-24","v":0.29},{"s":"R","d":"2022-07-01","v":0.35},{"s":"R","d":"2022-07-07","v":0.22},{"s":"R","d":"2022-07-17","v":0.25},{"s":"R","d":"2022-07-28","v":0.22},{"s":"R","d":"2022-08-08","v":0.22},{"s":"R","d":"2022-08-19","v":0.19},{"s":"R","d":"2022-08-24","v":0.25},{"s":"R","d":"2022-08-26","v":0.29},{"s":"R","d":"2022-09-08","v":0.29},{"s":"R","d":"2022-10-01","v":0.25},{"s":"R","d":"2022-10-19","v":0.22},{"s":"R","d":"2022-10-20","v":0.35},{"s":"R","d":"2022-10-23","v":0.44},{"s":"R","d":"2022-10-27","v":0.48},{"s":"R","d":"2022-10-30","v":0.38},{"s":"R","d":"2022-11-02","v":0.6},{"s":"R","d":"2022-11-07","v":0.73},{"s":"R","d":"2022-11-11","v":0.57},{"s":"R","d":"2022-11-16","v":0.44},{"s":"R","d":"2022-11-18","v":0.92},{"s":"R","d":"2022-11-20","v":0.79},{"s":"R","d":"2022-11-23","v":1.39},{"s":"R","d":"2022-11-25","v":2.0},{"s":"R","d":"2022-11-28","v":1.27},{"s":"R","d":"2022-12-02","v":0.79},{"s":"R","d":"2022-12-07","v":0.63},{"s":"R","d":"2022-12-14","v":0.54},{"s":"R","d":"2022-12-17","v":0.44},{"s":"R","d":"2022-12-20","v":1.71},{"s":"R","d":"2022-12-22","v":1.43},{"s":"R","d":"2022-12-24","v":3.9},{"s":"R","d":"2022-12-26","v":1.52},{"s":"R","d":"2022-12-29","v":1.39},{"s":"R","d":"2023-01-01","v":1.9}
]
},
"concat":[
{"width":543,"height":315,
 "title":{"text":"Northwold Total, WISSEY","subtitle":"Ranking used data from 01/07/1983 to 31/12/2012"},
 "encoding":{"x":{"field":"d","type":"temporal","title":null,"scale":{"type":"utc","domain":["2022-03-01","2023-03-01"]},"axis":{"format":"%d-%b-%y","tickCount":{"interval":"month","step":2}}}},
 "layer":[
  {"data":{"name":"bands"},"transform":[{"filter":"datum.s=='W'"}],"mark":{"type":"area","color":"#558ED5","clip":true},"encoding":{"y":{"field":"b","type":"quantitative","scale":{"domain":[0,6],"nice":false},"title":"Daily Mean Flow (cumecs)","axis":{"values":[0,1,2,3,4,5,6],"format":"d","labelOverlap":false}},"y2":{"field":"l"}}},
  {"data":{"name":"bands"},"transform":[{"filter":"datum.s=='W'"}],"mark":{"type":"area","color":"#B7DEE8","clip":true},"encoding":{"y":{"field":"l","type":"quantitative","title":"Daily Mean Flow (cumecs)","axis":{"values":[0,1,2,3,4,5,6],"format":"d","labelOverlap":false}},"y2":{"field":"g"}}},
  {"data":{"name":"bands"},"transform":[{"filter":"datum.s=='W'"}],"mark":{"type":"area","color":"#99FF99","clip":true},"encoding":{"y":{"field":"g","type":"quantitative","title":"Daily Mean Flow (cumecs)","axis":{"values":[0,1,2,3,4,5,6],"format":"d","labelOverlap":false}},"y2":{"field":"y"}}},
  {"data":{"name":"bands"},"transform":[{"filter":"datum.s=='W'"}],"mark":{"type":"area","color":"#FFFF99","clip":true},"encoding":{"y":{"field":"y","type":"quantitative","title":"Daily Mean Flow (cumecs)","axis":{"values":[0,1,2,3,4,5,6],"format":"d","labelOverlap":false}},"y2":{"field":"o"}}},
  {"data":{"name":"bands"},"transform":[{"filter":"datum.s=='W'"}],"mark":{"type":"area","color":"#FAC090","clip":true},"encoding":{"y":{"field":"o","type":"quantitative","title":"Daily Mean Flow (cumecs)","axis":{"values":[0,1,2,3,4,5,6],"format":"d","labelOverlap":false}},"y2":{"field":"r"}}},
  {"data":{"name":"bands"},"transform":[{"filter":"datum.s=='W'"}],"mark":{"type":"area","color":"#FF7C80","clip":true},"encoding":{"y":{"field":"r","type":"quantitative","title":"Daily Mean Flow (cumecs)","axis":{"values":[0,1,2,3,4,5,6],"format":"d","labelOverlap":false}}}},
  {"data":{"name":"flow"},"transform":[{"filter":"datum.s=='W'"}],"mark":{"type":"line","color":"#000000","strokeWidth":1.8,"clip":true},"encoding":{"y":{"field":"v","type":"quantitative","title":"Daily Mean Flow (cumecs)","axis":{"values":[0,1,2,3,4,5,6],"format":"d","labelOverlap":false}},"detail":{"field":"k","type":"nominal"}}}
 ]},
{"width":542,"height":315,
 "title":{"text":"Marham, NAR","subtitle":"Ranking used data from 01/04/1982 to 31/12/2017"},
 "encoding":{"x":{"field":"d","type":"temporal","title":null,"scale":{"type":"utc","domain":["2022-03-01","2023-03-01"]},"axis":{"format":"%d-%b-%y","tickCount":{"interval":"month","step":2}}}},
 "layer":[
  {"data":{"name":"bands"},"transform":[{"filter":"datum.s=='N'"}],"mark":{"type":"area","color":"#558ED5","clip":true},"encoding":{"y":{"field":"b","type":"quantitative","scale":{"domain":[0,2.5],"nice":false},"title":"Daily Mean Flow (cumecs)","axis":{"values":[0,0.5,1,1.5,2,2.5],"format":".1f","labelOverlap":false}},"y2":{"field":"l"}}},
  {"data":{"name":"bands"},"transform":[{"filter":"datum.s=='N'"}],"mark":{"type":"area","color":"#B7DEE8","clip":true},"encoding":{"y":{"field":"l","type":"quantitative","title":"Daily Mean Flow (cumecs)","axis":{"values":[0,0.5,1,1.5,2,2.5],"format":".1f","labelOverlap":false}},"y2":{"field":"g"}}},
  {"data":{"name":"bands"},"transform":[{"filter":"datum.s=='N'"}],"mark":{"type":"area","color":"#99FF99","clip":true},"encoding":{"y":{"field":"g","type":"quantitative","title":"Daily Mean Flow (cumecs)","axis":{"values":[0,0.5,1,1.5,2,2.5],"format":".1f","labelOverlap":false}},"y2":{"field":"y"}}},
  {"data":{"name":"bands"},"transform":[{"filter":"datum.s=='N'"}],"mark":{"type":"area","color":"#FFFF99","clip":true},"encoding":{"y":{"field":"y","type":"quantitative","title":"Daily Mean Flow (cumecs)","axis":{"values":[0,0.5,1,1.5,2,2.5],"format":".1f","labelOverlap":false}},"y2":{"field":"o"}}},
  {"data":{"name":"bands"},"transform":[{"filter":"datum.s=='N'"}],"mark":{"type":"area","color":"#FAC090","clip":true},"encoding":{"y":{"field":"o","type":"quantitative","title":"Daily Mean Flow (cumecs)","axis":{"values":[0,0.5,1,1.5,2,2.5],"format":".1f","labelOverlap":false}},"y2":{"field":"r"}}},
  {"data":{"name":"bands"},"transform":[{"filter":"datum.s=='N'"}],"mark":{"type":"area","color":"#FF7C80","clip":true},"encoding":{"y":{"field":"r","type":"quantitative","title":"Daily Mean Flow (cumecs)","axis":{"values":[0,0.5,1,1.5,2,2.5],"format":".1f","labelOverlap":false}}}},
  {"data":{"name":"flow"},"transform":[{"filter":"datum.s=='N'"}],"mark":{"type":"line","color":"#000000","strokeWidth":1.8,"clip":true},"encoding":{"y":{"field":"v","type":"quantitative","title":"Daily Mean Flow (cumecs)","axis":{"values":[0,0.5,1,1.5,2,2.5],"format":".1f","labelOverlap":false}},"detail":{"field":"k","type":"nominal"}}}
 ]},
{"width":543,"height":315,
 "title":{"text":"Temple, LARK","subtitle":"Ranking used data from 01/11/1960 to 31/12/2017"},
 "encoding":{"x":{"field":"d","type":"temporal","title":null,"scale":{"type":"utc","domain":["2022-03-01","2023-03-01"]},"axis":{"format":"%d-%b-%y","tickCount":{"interval":"month","step":2}}}},
 "layer":[
  {"data":{"name":"bands"},"transform":[{"filter":"datum.s=='L'"}],"mark":{"type":"area","color":"#558ED5","clip":true},"encoding":{"y":{"field":"b","type":"quantitative","scale":{"domain":[0,4.5],"nice":false},"title":"Daily Mean Flow (cumecs)","axis":{"values":[0,0.5,1,1.5,2,2.5,3,3.5,4,4.5],"format":".1f","labelOverlap":false}},"y2":{"field":"l"}}},
  {"data":{"name":"bands"},"transform":[{"filter":"datum.s=='L'"}],"mark":{"type":"area","color":"#B7DEE8","clip":true},"encoding":{"y":{"field":"l","type":"quantitative","title":"Daily Mean Flow (cumecs)","axis":{"values":[0,0.5,1,1.5,2,2.5,3,3.5,4,4.5],"format":".1f","labelOverlap":false}},"y2":{"field":"g"}}},
  {"data":{"name":"bands"},"transform":[{"filter":"datum.s=='L'"}],"mark":{"type":"area","color":"#99FF99","clip":true},"encoding":{"y":{"field":"g","type":"quantitative","title":"Daily Mean Flow (cumecs)","axis":{"values":[0,0.5,1,1.5,2,2.5,3,3.5,4,4.5],"format":".1f","labelOverlap":false}},"y2":{"field":"y"}}},
  {"data":{"name":"bands"},"transform":[{"filter":"datum.s=='L'"}],"mark":{"type":"area","color":"#FFFF99","clip":true},"encoding":{"y":{"field":"y","type":"quantitative","title":"Daily Mean Flow (cumecs)","axis":{"values":[0,0.5,1,1.5,2,2.5,3,3.5,4,4.5],"format":".1f","labelOverlap":false}},"y2":{"field":"o"}}},
  {"data":{"name":"bands"},"transform":[{"filter":"datum.s=='L'"}],"mark":{"type":"area","color":"#FAC090","clip":true},"encoding":{"y":{"field":"o","type":"quantitative","title":"Daily Mean Flow (cumecs)","axis":{"values":[0,0.5,1,1.5,2,2.5,3,3.5,4,4.5],"format":".1f","labelOverlap":false}},"y2":{"field":"r"}}},
  {"data":{"name":"bands"},"transform":[{"filter":"datum.s=='L'"}],"mark":{"type":"area","color":"#FF7C80","clip":true},"encoding":{"y":{"field":"r","type":"quantitative","title":"Daily Mean Flow (cumecs)","axis":{"values":[0,0.5,1,1.5,2,2.5,3,3.5,4,4.5],"format":".1f","labelOverlap":false}}}},
  {"data":{"name":"flow"},"transform":[{"filter":"datum.s=='L'"}],"mark":{"type":"line","color":"#000000","strokeWidth":1.8,"clip":true},"encoding":{"y":{"field":"v","type":"quantitative","title":"Daily Mean Flow (cumecs)","axis":{"values":[0,0.5,1,1.5,2,2.5,3,3.5,4,4.5],"format":".1f","labelOverlap":false}},"detail":{"field":"k","type":"nominal"}}}
 ]},
{"width":542,"height":315,
 "title":{"text":"Willen, OUZEL","subtitle":"Ranking used data from 01/01/1962 to 31/12/2017"},
 "encoding":{"x":{"field":"d","type":"temporal","title":null,"scale":{"type":"utc","domain":["2022-03-01","2023-03-01"]},"axis":{"format":"%d-%b-%y","tickCount":{"interval":"month","step":2}}}},
 "layer":[
  {"data":{"name":"bands"},"transform":[{"filter":"datum.s=='O'"}],"mark":{"type":"area","color":"#558ED5","clip":true},"encoding":{"y":{"field":"b","type":"quantitative","scale":{"domain":[0,10],"nice":false},"title":"Daily Mean Flow (cumecs)","axis":{"values":[0,1,2,3,4,5,6,7,8,9,10],"format":"d","labelOverlap":false}},"y2":{"field":"l"}}},
  {"data":{"name":"bands"},"transform":[{"filter":"datum.s=='O'"}],"mark":{"type":"area","color":"#B7DEE8","clip":true},"encoding":{"y":{"field":"l","type":"quantitative","title":"Daily Mean Flow (cumecs)","axis":{"values":[0,1,2,3,4,5,6,7,8,9,10],"format":"d","labelOverlap":false}},"y2":{"field":"g"}}},
  {"data":{"name":"bands"},"transform":[{"filter":"datum.s=='O'"}],"mark":{"type":"area","color":"#99FF99","clip":true},"encoding":{"y":{"field":"g","type":"quantitative","title":"Daily Mean Flow (cumecs)","axis":{"values":[0,1,2,3,4,5,6,7,8,9,10],"format":"d","labelOverlap":false}},"y2":{"field":"y"}}},
  {"data":{"name":"bands"},"transform":[{"filter":"datum.s=='O'"}],"mark":{"type":"area","color":"#FFFF99","clip":true},"encoding":{"y":{"field":"y","type":"quantitative","title":"Daily Mean Flow (cumecs)","axis":{"values":[0,1,2,3,4,5,6,7,8,9,10],"format":"d","labelOverlap":false}},"y2":{"field":"o"}}},
  {"data":{"name":"bands"},"transform":[{"filter":"datum.s=='O'"}],"mark":{"type":"area","color":"#FAC090","clip":true},"encoding":{"y":{"field":"o","type":"quantitative","title":"Daily Mean Flow (cumecs)","axis":{"values":[0,1,2,3,4,5,6,7,8,9,10],"format":"d","labelOverlap":false}},"y2":{"field":"r"}}},
  {"data":{"name":"bands"},"transform":[{"filter":"datum.s=='O'"}],"mark":{"type":"area","color":"#FF7C80","clip":true},"encoding":{"y":{"field":"r","type":"quantitative","title":"Daily Mean Flow (cumecs)","axis":{"values":[0,1,2,3,4,5,6,7,8,9,10],"format":"d","labelOverlap":false}}}},
  {"data":{"name":"flow"},"transform":[{"filter":"datum.s=='O'"}],"mark":{"type":"line","color":"#000000","strokeWidth":1.8,"clip":true},"encoding":{"y":{"field":"v","type":"quantitative","title":"Daily Mean Flow (cumecs)","axis":{"values":[0,1,2,3,4,5,6,7,8,9,10],"format":"d","labelOverlap":false}},"detail":{"field":"k","type":"nominal"}}}
 ]},
{"width":543,"height":315,
 "title":{"text":"Cappenham, TOVE","subtitle":"Ranking used data from 01/02/1962 to 31/12/2017","offset":15},
 "encoding":{"x":{"field":"d","type":"temporal","title":null,"scale":{"type":"utc","domain":["2022-03-01","2023-03-01"]},"axis":{"format":"%d-%b-%y","tickCount":{"interval":"month","step":2}}}},
 "layer":[
  {"data":{"name":"bands"},"transform":[{"filter":"datum.s=='T'"}],"mark":{"type":"area","color":"#558ED5","clip":true},"encoding":{"y":{"field":"b","type":"quantitative","scale":{"domain":[0,5.5],"nice":false},"title":"Daily Mean Flow (cumecs)","axis":{"values":[0,1,2,3,4,5],"format":"d","labelOverlap":false}},"y2":{"field":"l"}}},
  {"data":{"name":"bands"},"transform":[{"filter":"datum.s=='T'"}],"mark":{"type":"area","color":"#B7DEE8","clip":true},"encoding":{"y":{"field":"l","type":"quantitative","title":"Daily Mean Flow (cumecs)","axis":{"values":[0,1,2,3,4,5],"format":"d","labelOverlap":false}},"y2":{"field":"g"}}},
  {"data":{"name":"bands"},"transform":[{"filter":"datum.s=='T'"}],"mark":{"type":"area","color":"#99FF99","clip":true},"encoding":{"y":{"field":"g","type":"quantitative","title":"Daily Mean Flow (cumecs)","axis":{"values":[0,1,2,3,4,5],"format":"d","labelOverlap":false}},"y2":{"field":"y"}}},
  {"data":{"name":"bands"},"transform":[{"filter":"datum.s=='T'"}],"mark":{"type":"area","color":"#FFFF99","clip":true},"encoding":{"y":{"field":"y","type":"quantitative","title":"Daily Mean Flow (cumecs)","axis":{"values":[0,1,2,3,4,5],"format":"d","labelOverlap":false}},"y2":{"field":"o"}}},
  {"data":{"name":"bands"},"transform":[{"filter":"datum.s=='T'"}],"mark":{"type":"area","color":"#FAC090","clip":true},"encoding":{"y":{"field":"o","type":"quantitative","title":"Daily Mean Flow (cumecs)","axis":{"values":[0,1,2,3,4,5],"format":"d","labelOverlap":false}},"y2":{"field":"r"}}},
  {"data":{"name":"bands"},"transform":[{"filter":"datum.s=='T'"}],"mark":{"type":"area","color":"#FF7C80","clip":true},"encoding":{"y":{"field":"r","type":"quantitative","title":"Daily Mean Flow (cumecs)","axis":{"values":[0,1,2,3,4,5],"format":"d","labelOverlap":false}}}},
  {"data":{"name":"flow"},"transform":[{"filter":"datum.s=='T'"}],"mark":{"type":"line","color":"#000000","strokeWidth":1.8,"clip":true},"encoding":{"y":{"field":"v","type":"quantitative","title":"Daily Mean Flow (cumecs)","axis":{"values":[0,1,2,3,4,5],"format":"d","labelOverlap":false}},"detail":{"field":"k","type":"nominal"}}}
 ]},
{"width":542,"height":315,
 "title":{"text":"Burnt Mill, River Rhee","subtitle":"Ranking used data from 01/10/1962 to 31/12/2017"},
 "encoding":{"x":{"field":"d","type":"temporal","title":null,"scale":{"type":"utc","domain":["2022-03-01","2023-03-01"]},"axis":{"format":"%d-%b-%y","tickCount":{"interval":"month","step":2}}}},
 "layer":[
  {"data":{"name":"bands"},"transform":[{"filter":"datum.s=='R'"}],"mark":{"type":"area","color":"#558ED5","clip":true},"encoding":{"y":{"field":"b","type":"quantitative","scale":{"domain":[0,6],"nice":false},"title":"Daily Mean Flow (cumecs)","axis":{"values":[0,1,2,3,4,5,6],"format":"d","labelOverlap":false}},"y2":{"field":"l"}}},
  {"data":{"name":"bands"},"transform":[{"filter":"datum.s=='R'"}],"mark":{"type":"area","color":"#B7DEE8","clip":true},"encoding":{"y":{"field":"l","type":"quantitative","title":"Daily Mean Flow (cumecs)","axis":{"values":[0,1,2,3,4,5,6],"format":"d","labelOverlap":false}},"y2":{"field":"g"}}},
  {"data":{"name":"bands"},"transform":[{"filter":"datum.s=='R'"}],"mark":{"type":"area","color":"#99FF99","clip":true},"encoding":{"y":{"field":"g","type":"quantitative","title":"Daily Mean Flow (cumecs)","axis":{"values":[0,1,2,3,4,5,6],"format":"d","labelOverlap":false}},"y2":{"field":"y"}}},
  {"data":{"name":"bands"},"transform":[{"filter":"datum.s=='R'"}],"mark":{"type":"area","color":"#FFFF99","clip":true},"encoding":{"y":{"field":"y","type":"quantitative","title":"Daily Mean Flow (cumecs)","axis":{"values":[0,1,2,3,4,5,6],"format":"d","labelOverlap":false}},"y2":{"field":"o"}}},
  {"data":{"name":"bands"},"transform":[{"filter":"datum.s=='R'"}],"mark":{"type":"area","color":"#FAC090","clip":true},"encoding":{"y":{"field":"o","type":"quantitative","title":"Daily Mean Flow (cumecs)","axis":{"values":[0,1,2,3,4,5,6],"format":"d","labelOverlap":false}},"y2":{"field":"r"}}},
  {"data":{"name":"bands"},"transform":[{"filter":"datum.s=='R'"}],"mark":{"type":"area","color":"#FF7C80","clip":true},"encoding":{"y":{"field":"r","type":"quantitative","title":"Daily Mean Flow (cumecs)","axis":{"values":[0,1,2,3,4,5,6],"format":"d","labelOverlap":false}}}},
  {"data":{"name":"flow"},"transform":[{"filter":"datum.s=='R'"}],"mark":{"type":"line","color":"#000000","strokeWidth":1.8,"clip":true},"encoding":{"y":{"field":"v","type":"quantitative","title":"Daily Mean Flow (cumecs)","axis":{"values":[0,1,2,3,4,5,6],"format":"d","labelOverlap":false}},"detail":{"field":"k","type":"nominal"}}}
 ]}
]
}
